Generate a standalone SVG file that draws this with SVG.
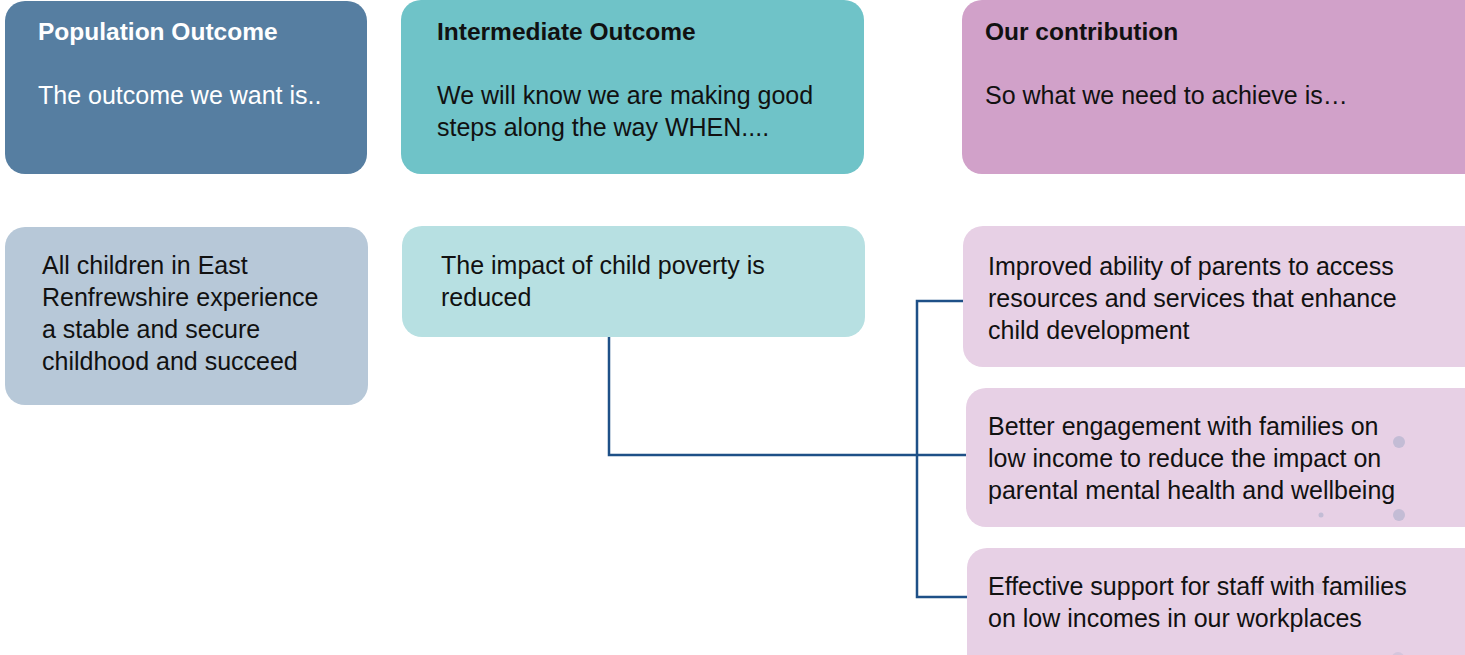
<svg xmlns="http://www.w3.org/2000/svg" width="1465" height="655" viewBox="0 0 1465 655">
<style>
text{font-family:"Liberation Sans","Noto Sans",sans-serif;font-size:25px;fill:#111}
.t{font-weight:bold;font-size:24.5px}
.w{fill:#fff}
.conn{fill:none;stroke:#1e5087;stroke-width:2.5}
.dot{fill:#c3bcd5}
</style>
<rect width="1465" height="655" fill="#fff"/>
<g id="population-header">
<rect x="5" y="1" width="362" height="173" rx="20" fill="#567ea1"/>
<text class="t w" x="38" y="40">Population Outcome</text>
<text class="w" x="38" y="104">The outcome we want is..</text>
</g>
<g id="intermediate-header">
<rect x="401" y="0" width="463" height="174" rx="20" fill="#6fc3c8"/>
<text class="t" x="437" y="40">Intermediate Outcome</text>
<text x="437" y="104">We will know we are making good</text>
<text x="437" y="136">steps along the way WHEN....</text>
</g>
<g id="contribution-header">
<rect x="962" y="0" width="523" height="174" rx="20" fill="#d1a1c9"/>
<text class="t" x="985" y="40">Our contribution</text>
<text x="985" y="104">So what we need to achieve is…</text>
</g>
<g id="population-outcome">
<rect x="5" y="227" width="363" height="178" rx="20" fill="#b7c8d8"/>
<text x="42" y="274">All children in East</text>
<text x="42" y="306">Renfrewshire experience</text>
<text x="42" y="338">a stable and secure</text>
<text x="42" y="370">childhood and succeed</text>
</g>
<g id="intermediate-outcome">
<rect x="402" y="226" width="463" height="111" rx="20" fill="#b7e0e2"/>
<text x="441" y="274">The impact of child poverty is</text>
<text x="441" y="306">reduced</text>
</g>
<g id="contribution-1">
<rect x="963" y="226" width="522" height="141" rx="20" fill="#e7d0e5"/>
<text x="988" y="275">Improved ability of parents to access</text>
<text x="988" y="307">resources and services that enhance</text>
<text x="988" y="339">child development</text>
</g>
<g id="contribution-2">
<rect x="966" y="388" width="519" height="139" rx="20" fill="#e7d0e5"/>
<circle class="dot" cx="1399" cy="442" r="6"/>
<circle class="dot" cx="1399" cy="515" r="6"/>
<circle class="dot" cx="1321" cy="515" r="2.5"/>
<text x="988" y="435">Better engagement with families on</text>
<text x="988" y="467">low income to reduce the impact on</text>
<text x="988" y="499">parental mental health and wellbeing</text>
</g>
<g id="contribution-3">
<rect x="967" y="548" width="518" height="127" rx="20" fill="#e7d0e5"/>
<circle class="dot" cx="1321" cy="588" r="6" opacity="0.35"/>
<circle class="dot" cx="1399" cy="588" r="6" opacity="0.35"/>
<circle class="dot" cx="1398" cy="658" r="6" opacity="0.5"/>
<text x="988" y="595">Effective support for staff with families</text>
<text x="988" y="627">on low incomes in our workplaces</text>
</g>
<g id="connectors">
<path class="conn" d="M609 337 V455 H966"/>
<path class="conn" d="M963 301 H917 V597 H967"/>
</g>
</svg>
